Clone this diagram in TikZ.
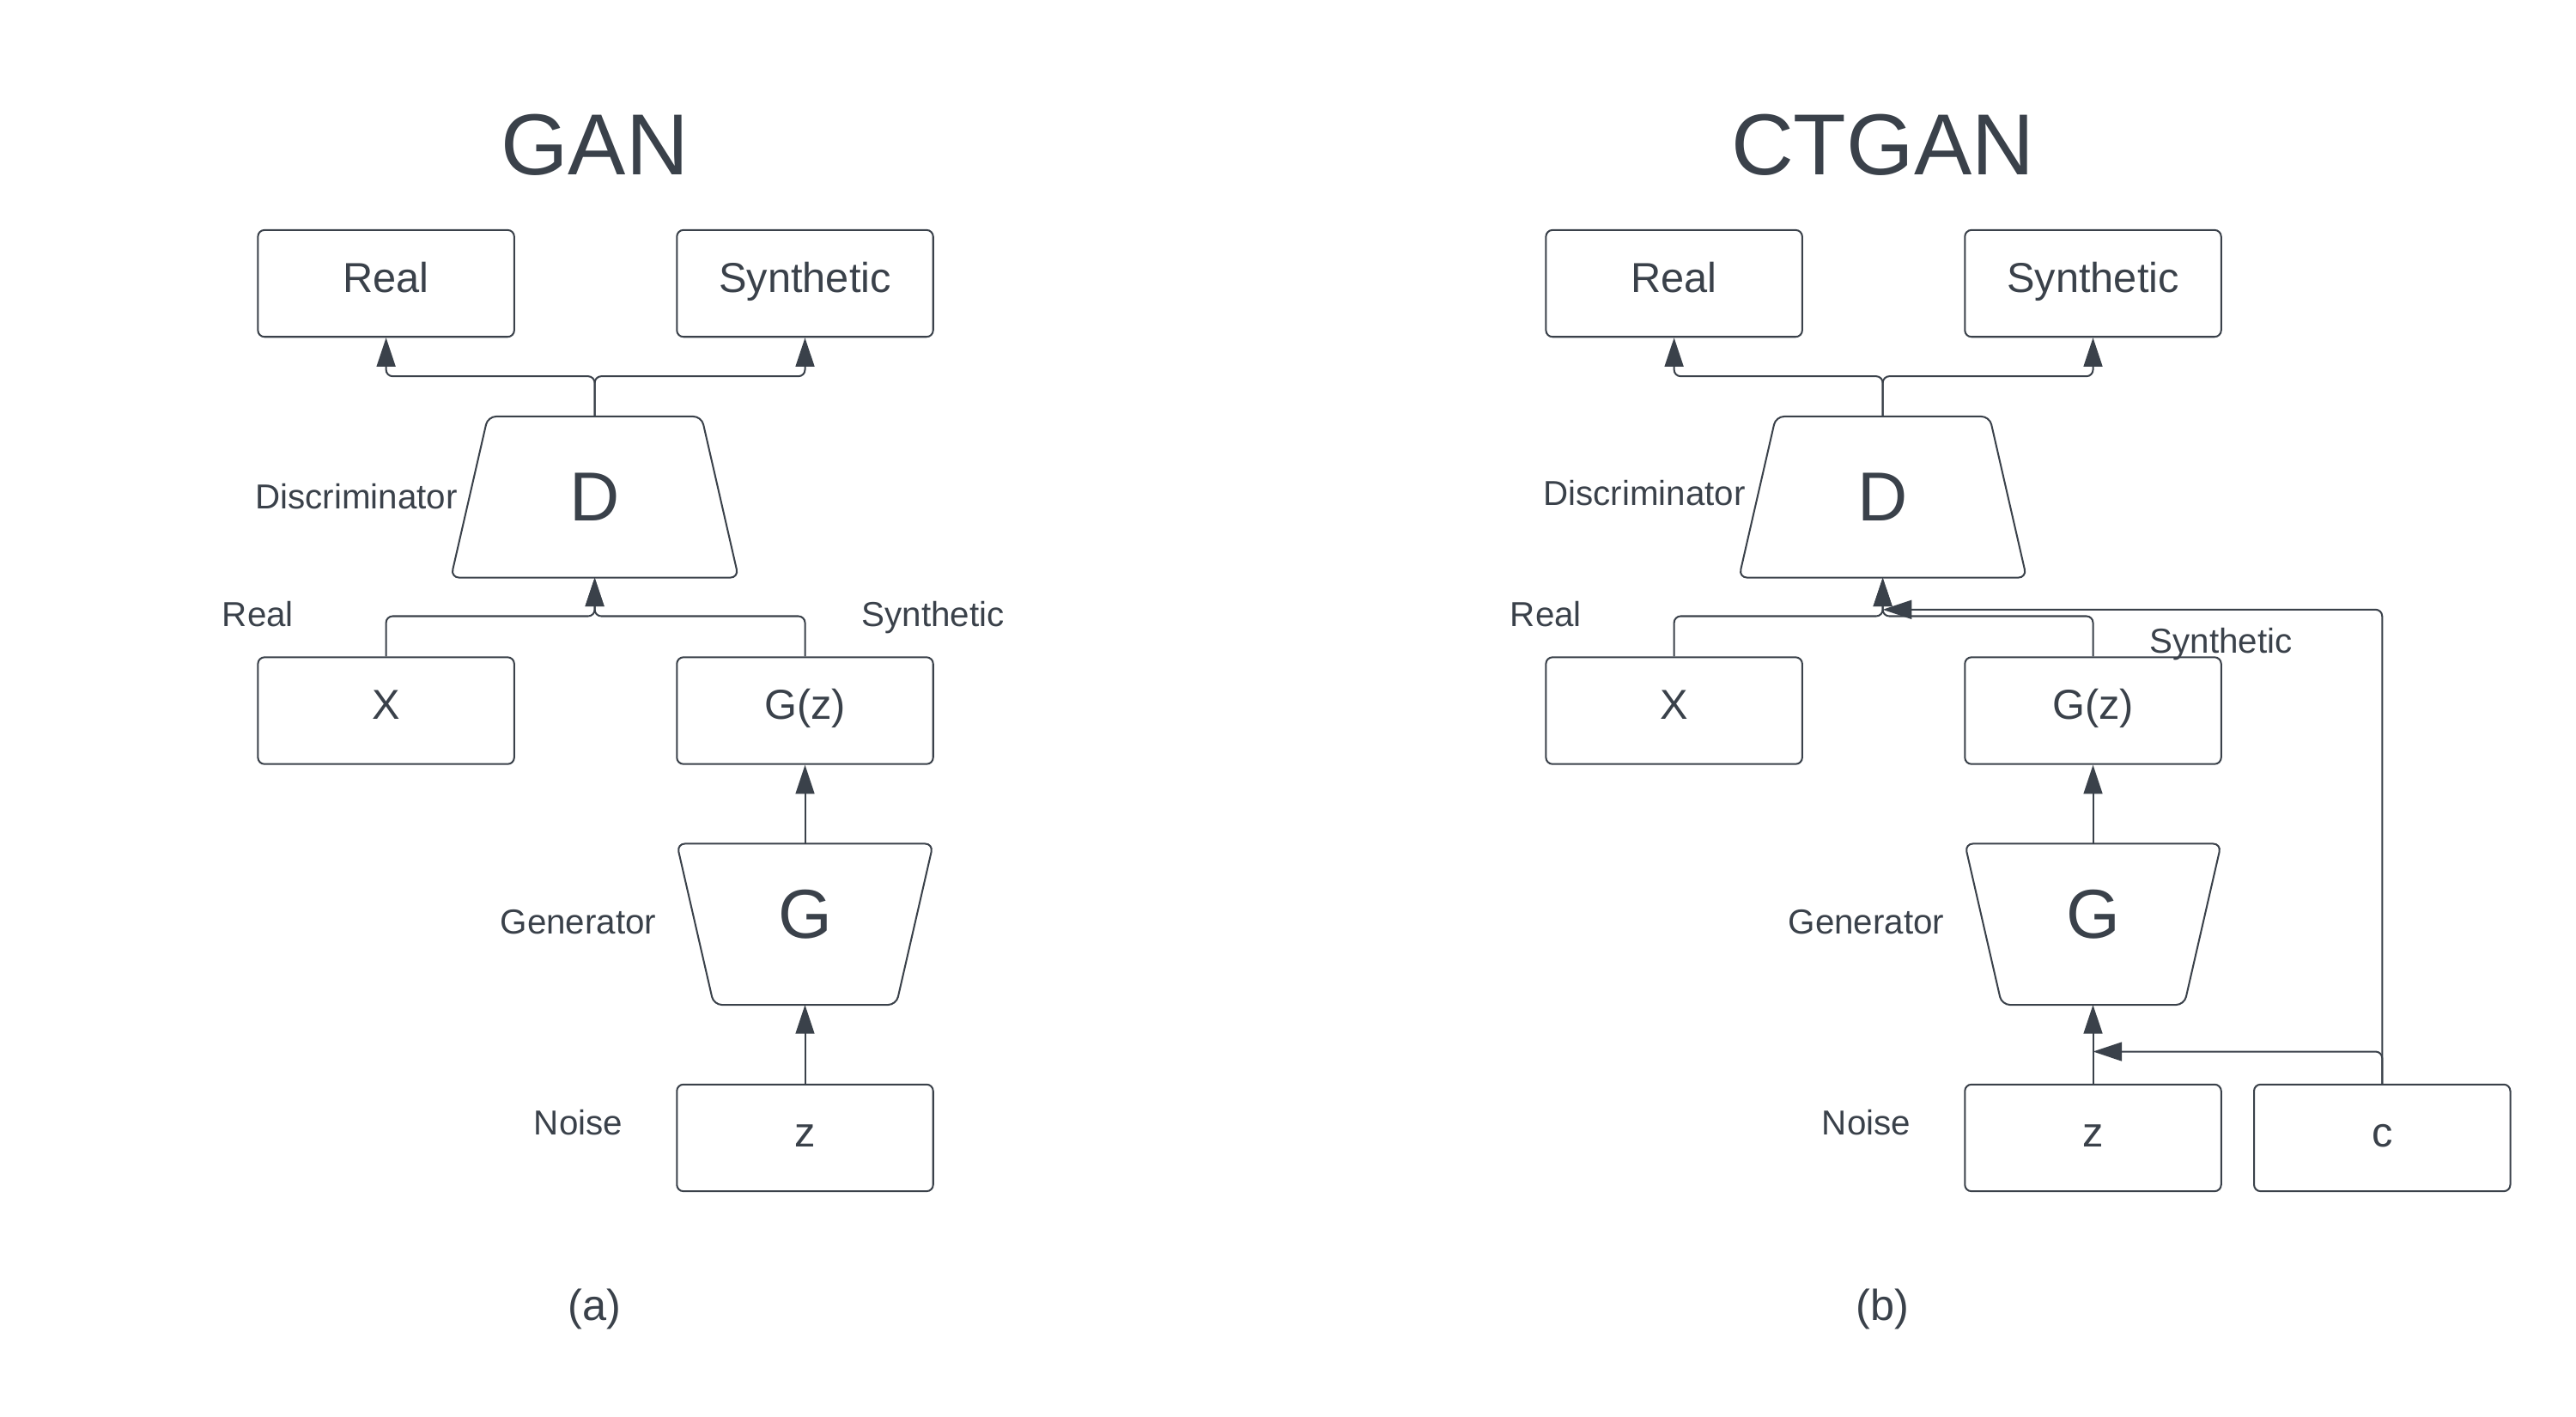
\documentclass[tikz,border=0pt]{standalone}
\usepackage{fontspec}
\setmainfont{Liberation Sans}
\usetikzlibrary{arrows.meta,calc}
\definecolor{ink}{RGB}{58,65,74}
\begin{document}
\begin{tikzpicture}[x=0.2mm,y=-0.2mm,
  line width=0.6pt, draw=ink, text=ink,
  box/.style={draw=ink, rounded corners=0.8mm, minimum width=31.2mm, minimum height=13mm, inner sep=0,
    text height=0.716em, text depth=0.1em, font=\fontsize{14.5}{17}\selectfont},
  trapD/.style={inner sep=0, minimum width=34.8mm, minimum height=19.4mm, font=\fontsize{24}{28}\selectfont},
  trapG/.style={inner sep=0, minimum width=31mm, minimum height=19.4mm, text depth=2.4mm, font=\fontsize{24}{28}\selectfont},
  trapline/.style={draw=ink, rounded corners=1mm},
  lbl/.style={font=\fontsize{12}{14}\selectfont, inner sep=0, text height=0.716em, text depth=0.21em},
  ttl/.style={font=\fontsize{30}{36}\selectfont, inner sep=0},
  capt/.style={font=\fontsize{15}{18}\selectfont, inner sep=0},
  conn/.style={draw=ink, rounded corners=0.8mm},
  arr/.style={conn, -{Triangle[length=10pt,width=6.5pt]}},
]
\useasboundingbox (0,0) rectangle (1568,862);

% ---------------- (a) GAN ----------------
\node[ttl] (ttlA) at (362,88) {GAN};
\node[box] (realA) at (235,172.5) {Real};
\node[box] (synA) at (490,172.5) {Synthetic};
\node[trapD] (DA) at (362,302.5) {D};
\draw[trapline] (DA.south west) -- ($(DA.north west)+(22.5,0)$) -- ($(DA.north east)+(-22.5,0)$) -- (DA.south east) -- cycle;
\node[lbl, anchor=east] (discA) at (279,305) {Discriminator};
\node[lbl] (rlA) at (157,377) {Real};
\node[lbl] (slA) at (568,377) {Synthetic};
\node[box] (XA) at (235,432.5) {X};
\node[box] (GzA) at (490,432.5) {G(z)};
\node[trapG] (GA) at (490,562.5) {G};
\draw[trapline] (GA.north west) -- (GA.north east) -- ($(GA.south east)+(-22.5,0)$) -- ($(GA.south west)+(22.5,0)$) -- cycle;
\node[lbl] (genA) at (352,564) {Generator};
\node[box] (zA) at (490,692.5) {z};
\node[lbl] (noiseA) at (352,686) {Noise};
\node[capt] (capA) at (362,797) {(a)};

\coordinate (sA) at (362,229);
\coordinate (mA) at (362,375);
\draw[arr] (DA.north) -- (sA) -| (realA.south);
\draw[arr] (DA.north) -- (sA) -| (synA.south);
\draw[arr] (XA.north) |- (mA) -- (DA.south);
\draw[arr] (GzA.north) |- (mA) -- (DA.south);
\draw[arr] (GA.north) -- (GzA.south);
\draw[arr] (zA.north) -- (GA.south);

% ---------------- (b) CTGAN ----------------
\node[ttl] (ttlB) at (1146,88) {CTGAN};
\node[box] (realB) at (1019,172.5) {Real};
\node[box] (synB) at (1274,172.5) {Synthetic};
\node[trapD] (DB) at (1146,302.5) {D};
\draw[trapline] (DB.south west) -- ($(DB.north west)+(22.5,0)$) -- ($(DB.north east)+(-22.5,0)$) -- (DB.south east) -- cycle;
\node[lbl, anchor=east] (discB) at (1063,303) {Discriminator};
\node[lbl] (rlB) at (941,377) {Real};
\node[lbl] (slB) at (1352,393) {Synthetic};
\node[box] (XB) at (1019,432.5) {X};
\node[box] (GzB) at (1274,432.5) {G(z)};
\node[trapG] (GB) at (1274,562.5) {G};
\draw[trapline] (GB.north west) -- (GB.north east) -- ($(GB.south east)+(-22.5,0)$) -- ($(GB.south west)+(22.5,0)$) -- cycle;
\node[lbl] (genB) at (1136,564) {Generator};
\node[box] (zB) at (1274,692.5) {z};
\node[box] (cB) at (1450,692.5) {c};
\node[lbl] (noiseB) at (1136,686) {Noise};
\node[capt] (capB) at (1146,797) {(b)};

\coordinate (sB) at (1146,229);
\coordinate (mB) at (1146,375);
\coordinate (zgB) at (1274,640);
\coordinate (dgB) at (1146,371);
\draw[arr] (DB.north) -- (sB) -| (realB.south);
\draw[arr] (DB.north) -- (sB) -| (synB.south);
\draw[arr] (XB.north) |- (mB) -- (DB.south);
\draw[arr] (GzB.north) |- (mB) -- (DB.south);
\draw[arr] (GB.north) -- (GzB.south);
\draw[arr] (zB.north) -- (GB.south);
\draw[arr] (cB.north) |- (zgB);
\draw[arr] (cB.north) |- (dgB);
\end{tikzpicture}
\end{document}
